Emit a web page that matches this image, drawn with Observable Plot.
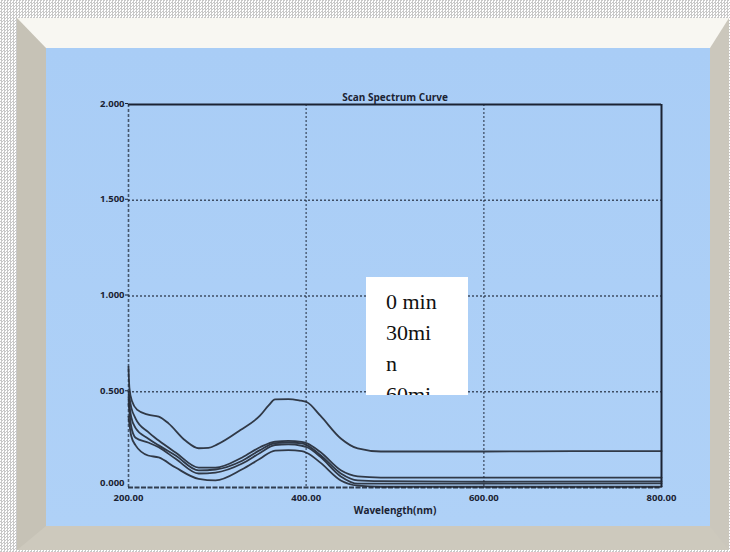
<!DOCTYPE html>
<html>
<head>
<meta charset="utf-8">
<script src="https://cdn.jsdelivr.net/npm/d3@7"></script>
<script src="https://cdn.jsdelivr.net/npm/@observablehq/plot@0.6"></script>
<style>
  html, body { margin: 0; padding: 0; }
  body {
    width: 730px; height: 552px; overflow: hidden; position: relative;
    background-color: #ffffff;
    background-image: repeating-conic-gradient(#c8c8c8 0% 25%, #ffffff 0% 50%);
    background-size: 3px 3px;
  }
  #frame {
    position: absolute; left: 17px; top: 18px; width: 664px; height: 478px;
    border-style: solid;
    border-width: 30px 19px 24px 29px;
    border-color: #f8f7f2 #cbc7bc #cdc9bd #c6c2b6;
    background: linear-gradient(#a9cdf6, #afd1f7);
  }
  #chart { position: absolute; left: 0; top: 0; }
  #note {
    position: absolute; left: 366px; top: 277px; width: 102px; height: 118px;
    background: #ffffff; overflow: hidden;
    font-family: "Liberation Serif", "DejaVu Serif", serif; font-size: 22px; line-height: 31px;
    color: #111;
    box-sizing: border-box; padding: 9px 0 0 20px;
  }
</style>
</head>
<body>
<div id="frame"></div>
<div id="chart"></div>
<div id="note"><div>0 min</div><div>30mi</div><div>n</div><div>60mi</div></div>
<script>
const title = "Scan Spectrum Curve";
const xLabel = "Wavelength(nm)";
const xTicks = [200, 400, 600, 800];
const yTicks = [0.5, 1, 1.5, 2];
const yZeroTick = [0];
const xGrid = [400, 600];
const yGrid = [0.5, 1, 1.5];

// 0 min (upper curve)
const topWl  = [200, 201, 204, 210, 222, 234, 245, 264, 279, 290, 300, 326, 348, 358, 365, 380, 392, 401, 416, 439, 458, 484, 600, 700, 800];
const topAbs = [0.63, 0.52, 0.45, 0.405, 0.38, 0.37, 0.335, 0.245, 0.205, 0.207, 0.225, 0.30, 0.375, 0.43, 0.46, 0.462, 0.455, 0.445, 0.375, 0.256, 0.204, 0.188, 0.188, 0.19, 0.19];

// lower group of curves
const lowWl = [200, 203, 208, 222, 234, 253, 279, 298, 328, 348, 365, 380, 395, 401, 416, 439, 458, 484, 600, 800];
const absA = [0.50, 0.42, 0.36, 0.29, 0.245, 0.183, 0.104, 0.104, 0.157, 0.21, 0.24, 0.243, 0.238, 0.23, 0.185, 0.09, 0.058, 0.052, 0.052, 0.052];
const absB = [0.47, 0.37, 0.31, 0.256, 0.22, 0.167, 0.089, 0.094, 0.14, 0.195, 0.232, 0.235, 0.23, 0.22, 0.17, 0.073, 0.037, 0.033, 0.03, 0.032];
const absC = [0.44, 0.32, 0.26, 0.235, 0.21, 0.15, 0.073, 0.078, 0.125, 0.18, 0.222, 0.225, 0.218, 0.21, 0.16, 0.058, 0.02, 0.02, 0.02, 0.022];
const absD = [0.37, 0.27, 0.22, 0.167, 0.157, 0.104, 0.045, 0.037, 0.095, 0.15, 0.193, 0.195, 0.19, 0.18, 0.13, 0.037, 0.01, 0.004, 0.004, 0.004];

const rows = [];
topWl.forEach((w, i) => rows.push({series: "top", wl: w, a: topAbs[i]}));
[["A", absA], ["B", absB], ["C", absC], ["D", absD]].forEach(([s, arr]) =>
  lowWl.forEach((w, i) => rows.push({series: s, wl: w, a: arr[i]})));

const ink = "#1b2333";
const font = "'Open Sans', 'DejaVu Sans', sans-serif";

const chart = Plot.plot({
  width: 730,
  height: 552,
  marginLeft: 128,
  marginRight: 69,
  marginTop: 104,
  marginBottom: 65,
  style: {background: "transparent", fontFamily: font},
  x: {domain: [200, 800]},
  y: {domain: [0, 2]},
  marks: [
    Plot.ruleY(yGrid, {stroke: ink, strokeWidth: 1.6, strokeDasharray: "2,2", strokeOpacity: 0.75}),
    Plot.ruleX(xGrid, {stroke: ink, strokeWidth: 1.6, strokeDasharray: "2,2", strokeOpacity: 0.6}),
    Plot.ruleX([200], {stroke: ink, strokeWidth: 1.6, strokeDasharray: "3,2", strokeOpacity: 0.7}),
    Plot.ruleY([0], {stroke: ink, strokeWidth: 2, strokeDasharray: "5,1.5", strokeOpacity: 0.85}),
    Plot.ruleY([2], {stroke: ink, strokeWidth: 2.2}),
    Plot.ruleX([800], {stroke: ink, strokeWidth: 2}),
    Plot.line(rows, {x: "wl", y: "a", z: "series", stroke: "#222833", strokeWidth: 1.8, curve: "monotone-x", strokeOpacity: 0.9}),
    Plot.axisX({ticks: xTicks, tickFormat: d3.format(".2f"), tickSize: 0, tickPadding: 7, fontSize: 9.5, fontWeight: "bold", fill: ink, label: null}),
    Plot.axisY({ticks: yTicks, tickFormat: d3.format(".3f"), tickSize: 3, tickPadding: 1, fontSize: 9.5, fontWeight: "bold", fill: ink, stroke: ink, label: null, dy: -1}),
    Plot.axisY({ticks: yZeroTick, tickFormat: d3.format(".3f"), tickSize: 0, tickPadding: 4, fontSize: 9.5, fontWeight: "bold", fill: ink, label: null, dy: -5}),
    Plot.text([title], {frameAnchor: "top", dy: -11, fontSize: 10, fontWeight: "bold", fill: ink}),
    Plot.text([xLabel], {frameAnchor: "bottom", dy: 26, fontSize: 10, fontWeight: "bold", fill: ink})
  ]
});
document.getElementById("chart").appendChild(chart);
</script>
</body>
</html>
